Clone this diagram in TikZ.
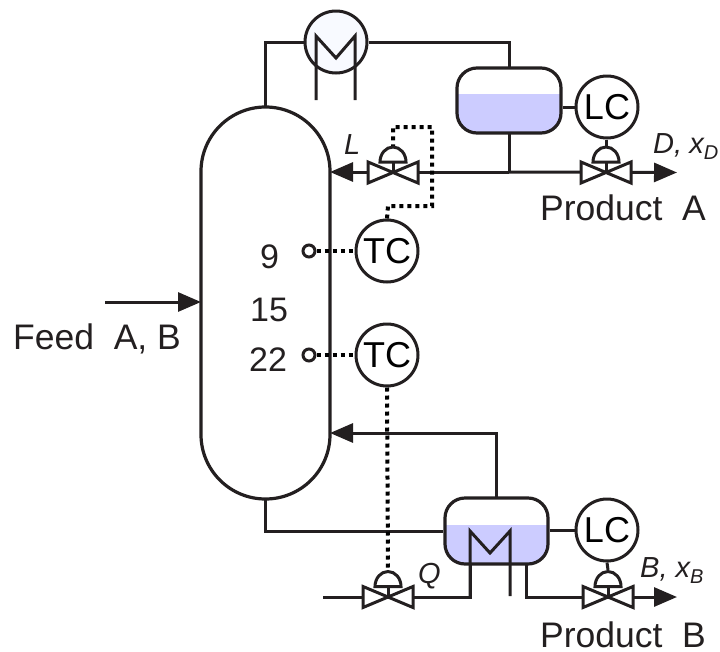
\documentclass[tikz,border=0pt]{standalone}
\usepackage{fontspec}
\setmainfont{Liberation Sans}
\usetikzlibrary{arrows.meta,calc}
\definecolor{ink}{HTML}{231F20}
\definecolor{liquid}{HTML}{CCCCFF}
\definecolor{pale}{HTML}{F8FAFF}
\newcommand{\subsc}[1]{\raisebox{-6pt}{\fontsize{20}{22}\selectfont #1}}
\tikzset{
  pipe/.style={draw=ink,line width=3pt,line join=miter},
  flow/.style={pipe,-{Triangle[length=23pt,width=19pt]}},
  signal/.style={draw=black,line width=4pt,dash pattern=on 4pt off 4pt},
  vessel/.style={draw=ink,line width=3.2pt,minimum width=#1,inner sep=0pt,rectangle},
  inst/.style={circle,draw=ink,line width=3pt,fill=white,minimum size=62pt,inner sep=0pt,font=\fontsize{36}{38}\selectfont},
  port/.style={circle,draw=ink,line width=3pt,fill=white,minimum size=12pt,inner sep=0pt},
  lbl/.style={anchor=base west,inner sep=0pt,text=ink,font=\fontsize{35.5}{38}\selectfont},
  num/.style={anchor=base west,inner sep=0pt,text=ink,font=\fontsize{34}{36}\selectfont},
  ilbl/.style={anchor=base west,inner sep=0pt,text=ink,font=\fontsize{29}{32}\selectfont\itshape},
  valve/.pic={
    \draw[ink,line width=3pt,fill=white,line join=miter] (-25,-10.5) -- (25,10.5) -- (25,-10.5) -- (-25,10.5) -- cycle;
    \draw[ink,line width=3pt] (0,0) -- (0,-11);
    \draw[ink,line width=3pt,fill=white] (-13,-10.5) arc[start angle=180,end angle=360,x radius=13,y radius=15] -- cycle;
  }
}
\begin{document}
\begin{tikzpicture}[x=1pt,y=-1pt]
\useasboundingbox (0,0) rectangle (720,651);

% vessels
\node[vessel=129pt,minimum height=392pt,rounded corners=64.5pt] (column) at (265.5,303) {};
\begin{scope}
  \clip[rounded corners=20pt] (457,68) rectangle (561,133);
  \fill[liquid] (457,94) rectangle (561,133);
\end{scope}
\begin{scope}
  \clip[rounded corners=20pt] (445,498) rectangle (548,564);
  \fill[liquid] (445,525) rectangle (548,564);
\end{scope}
\node[vessel=104pt,minimum height=65pt,rounded corners=20pt] (drum) at (509,100.5) {};
\node[vessel=103pt,minimum height=66pt,rounded corners=20pt] (reb) at (496.5,531) {};

% named points
\coordinate (colTop) at (265,107);
\coordinate (colBot) at (265,499);
\coordinate (drumTop) at (509,68);
\coordinate (drumBot) at (509,133);
\coordinate (tee) at (509,172);
\coordinate (refluxIn) at (330,172);
\coordinate (boilIn) at (330,433);
\coordinate (rebTop) at (496,498);
\coordinate (feedS) at (105,302);
\coordinate (feedE) at (201,302);
\coordinate (v1) at (393,172.5);
\coordinate (v2) at (606,172.5);
\coordinate (v3) at (388,597);
\coordinate (v4) at (608,597);
\coordinate (prodA) at (677,172.5);
\coordinate (prodB) at (677,597);
\coordinate (qS) at (323,597);
\coordinate (coilL) at (470,564);
\coordinate (coilR) at (526,564);

% instruments
\node[inst,fill=pale] (cond) at (336,42) {};
\node[inst] (lc1) at (607,107) {LC};
\node[inst] (lc2) at (607,530) {LC};
\node[inst] (tc1) at (387,251) {TC};
\node[inst] (tc2) at (387,355) {TC};
\node[port] (p1) at (309,251) {};
\node[port] (p2) at (309,355) {};

% condenser coil
\draw[pipe] (316,100) -- (316,36) -- (336,58) -- (355,36) -- (355,100);

% process lines
\draw[pipe] (colTop) |- (cond.west);
\draw[pipe] (cond.east) -| (drumTop);
\draw[pipe] (drumBot) -- (tee);
\draw[flow] (tee) -- (refluxIn);
\draw[flow] (tee) -- (prodA);
\draw[pipe] (colBot) |- (reb.west);
\draw[flow] (rebTop) |- (boilIn);
\draw[flow] (feedS) -- (feedE);
\draw[pipe] (drum.east |- lc1) -- (lc1.west);
\draw[pipe] (reb.east |- lc2) -- (lc2.west);
\draw[pipe] (qS) -- (v3);
\draw[pipe] (v3) -- (470,597) -- (coilL);
\draw[pipe] (coilR) |- (v4);
\draw[flow] (v4) -- (prodB);

% reboiler coil
\draw[pipe] (470,597) -- (470,531) -- (490,553) -- (510,531) -- (510,596);

% signals
\draw[pipe] (lc1.south -| v2) -- ($(v2)+(0,-26)$);
\draw[pipe] (lc2.south) -- ($(v4)+(0,-27)$);
\draw[signal] (p1.east) -- (tc1.west);
\draw[signal] (p2.east) -- (tc2.west);
\draw[signal] (tc1.north) -- (388,206) -- (432,206) -- (432,127) -- (393,127) -- ($(v1)+(0,-26)$);
\draw[signal] (tc2.south) -- ($(v3)+(0,-27)$);

% valves
\pic at (v1) {valve};
\pic at (v2) {valve};
\pic at (v3) {valve};
\pic at (v4) {valve};

% labels
\node[num] (t9) at (260,268) {9};
\node[num] (t15) at (250,321) {15};
\node[num] (t22) at (249,371) {22};
\node[lbl] (feed) at (13,349) {Feed\ \ A, B};
\node[lbl] (pa) at (540,220) {Product\ \ A};
\node[lbl] (pb) at (540,647) {Product\ \ B};
\node[ilbl] (l) at (344,154) {L};
\node[ilbl] (q) at (418,583) {Q};
\node[ilbl] (d) at (653,153) {D,\hspace{-1pt} x\subsc{D}};
\node[ilbl] (b) at (640,577) {B, x\subsc{B}};
\end{tikzpicture}
\end{document}
